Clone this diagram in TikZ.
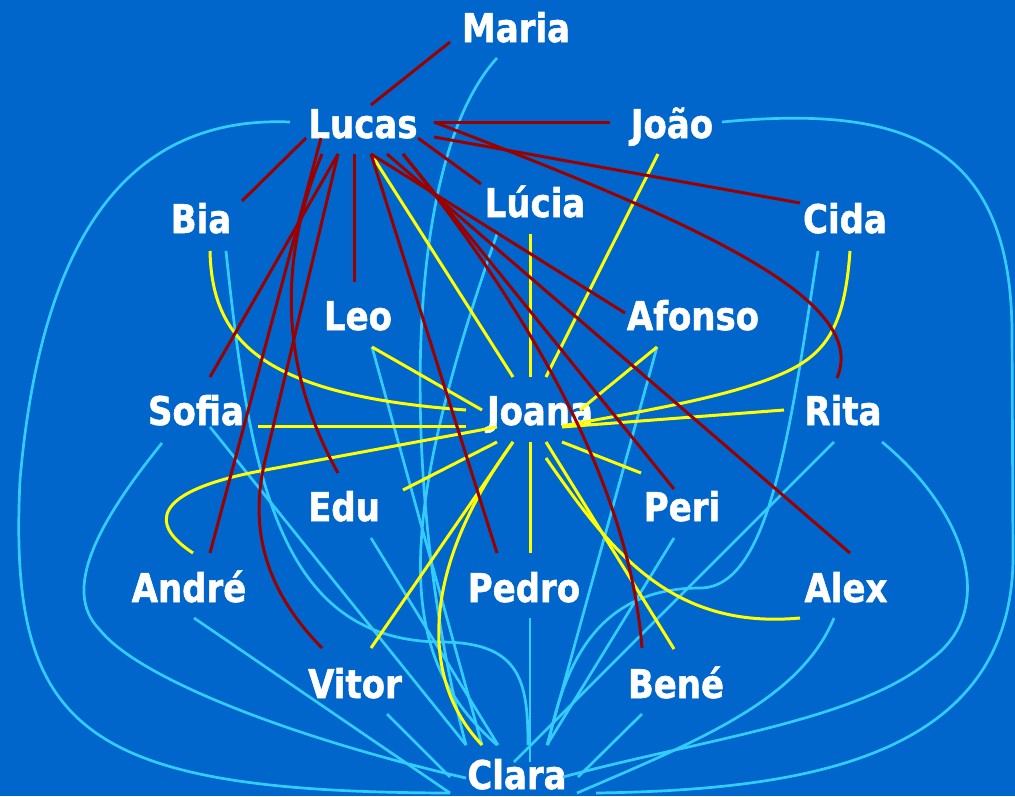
\documentclass[tikz,border=0pt]{standalone}
\usepackage{fontspec}
\setmainfont{DejaVu Sans Bold}[FakeStretch=0.86,FakeBold=1.3]
\definecolor{bgblue}{RGB}{0,102,204}
\definecolor{tiered}{RGB}{153,0,0}
\definecolor{tieyellow}{RGB}{255,255,0}
\definecolor{tiecyan}{RGB}{51,204,255}
\begin{document}
\begin{tikzpicture}[x=1pt,y=-1pt,
  person/.style={text=white,font=\fontsize{39.5}{40}\selectfont,inner sep=0pt,anchor=base},
  redtie/.style={draw=tiered,line width=3pt},
  yeltie/.style={draw=tieyellow,line width=3pt},
  cyantie/.style={draw=tiecyan,line width=2.7pt}]
\fill[bgblue] (0,0) rectangle (1015,796);
\useasboundingbox (0,0) rectangle (1015,796);
% people
\node[person] (Maria)  at (516,42)  {Maria};
\node[person] (Lucas)  at (363,138) {Lucas};
\node[person] (Joao)   at (672,138) {João};
\node[person] (Lucia)  at (535,217) {Lúcia};
\node[person] (Bia)    at (201,233) {Bia};
\node[person] (Cida)   at (845,233) {Cida};
\node[person] (Leo)    at (358,330) {Leo};
\node[person] (Afonso) at (693,330) {Afonso};
\node[person] (Sofia)  at (196,425) {Sofia};
\node[person] (Joana)  at (540,425) {Joana};
\node[person] (Rita)   at (843,425) {Rita};
\node[person] (Edu)    at (344,521) {Edu};
\node[person] (Peri)   at (682,521) {Peri};
\node[person] (Andre)  at (189,602) {André};
\node[person] (Pedro)  at (524,602) {Pedro};
\node[person] (Alex)   at (846,602) {Alex};
\node[person] (Vitor)  at (355,698) {Vitor};
\node[person] (Bene)   at (676,698) {Bené};
\node[person] (Clara)  at (517,789) {Clara};
% ---------- cyan (Clara) ----------
\draw[cyantie] ([shift={(-19,16)}]Maria.base) .. controls (395,170) and (405,520) .. ([shift={(-51,-44)}]Clara.base);
\draw[cyantie] ([shift={(-73,-16)}]Lucas.base) .. controls (120,115) and (40,250) .. (20,480)
   .. controls (8,730) and (80,792) .. ([shift={(-67,4)}]Clara.base);
\draw[cyantie] ([shift={(-34,18)}]Sofia.base) .. controls (100,520) and (60,590) .. (100,630)
   .. controls (140,680) and (300,740) .. ([shift={(-51,-11)}]Clara.base);
\draw[cyantie] ([shift={(14,2)}]Sofia.base) -- ([shift={(-51,-44)}]Clara.base);
\draw[cyantie] ([shift={(5,16)}]Andre.base) -- ([shift={(-67,4)}]Clara.base);
\draw[cyantie] ([shift={(32,16)}]Vitor.base) -- ([shift={(-67,-12)}]Clara.base);
\draw[cyantie] ([shift={(25,18)}]Bia.base) .. controls (250,480) and (280,640) .. (440,642)
   .. controls (520,642) and (528,680) .. ([shift={(11,-44)}]Clara.base);
\draw[cyantie] ([shift={(-38,17)}]Lucia.base) .. controls (390,540) and (400,660) .. ([shift={(-20,-44)}]Clara.base);
\draw[cyantie] ([shift={(14,17)}]Leo.base) -- ([shift={(-35,-44)}]Clara.base);
\draw[cyantie] ([shift={(27,17)}]Edu.base) -- ([shift={(-19,-44)}]Clara.base);
\draw[cyantie] ([shift={(6,16)}]Pedro.base) -- ([shift={(13,-27)}]Clara.base);
\draw[cyantie] ([shift={(-9,17)}]Rita.base) -- ([shift={(-3,-27)}]Clara.base);
\draw[cyantie] ([shift={(-27,18)}]Cida.base) .. controls (790,430) and (770,588) .. (700,588)
   .. controls (600,588) and (565,660) .. ([shift={(31,-44)}]Clara.base);
\draw[cyantie] ([shift={(-36,17)}]Afonso.base) -- ([shift={(30,-44)}]Clara.base);
\draw[cyantie] ([shift={(-8,17)}]Peri.base) -- ([shift={(30,-44)}]Clara.base);
\draw[cyantie] ([shift={(-34,16)}]Bene.base) -- ([shift={(61,-12)}]Clara.base);
\draw[cyantie] ([shift={(39,17)}]Rita.base) .. controls (965,510) and (1000,610) .. (930,660)
   .. controls (860,720) and (700,740) .. ([shift={(46,-12)}]Clara.base);
\draw[cyantie] ([shift={(-12,16)}]Alex.base) .. controls (800,700) and (700,740) .. ([shift={(60,4)}]Clara.base);
\draw[cyantie] ([shift={(50,-16)}]Joao.base) .. controls (900,105) and (1010,140) .. (1012,330)
   -- (1013,560) .. controls (1010,760) and (800,790) .. ([shift={(79,4)}]Clara.base);
% ---------- yellow (Joana) ----------
\draw[yeltie] ([shift={(10,19)}]Lucas.base) -- ([shift={(-27,-48)}]Joana.base);
\draw[yeltie] ([shift={(-5,17)}]Lucia.base) -- ([shift={(-10,-48)}]Joana.base);
\draw[yeltie] ([shift={(-14,16)}]Joao.base) -- ([shift={(6,-48)}]Joana.base);
\draw[yeltie] ([shift={(-36,17)}]Afonso.base) -- ([shift={(40,-15)}]Joana.base);
\draw[yeltie] ([shift={(5,18)}]Cida.base) .. controls (845,320) and (830,350) .. (790,370)
   .. controls (740,395) and (650,410) .. ([shift={(22,1)}]Joana.base);
\draw[yeltie] ([shift={(-59,-15)}]Rita.base) -- ([shift={(22,2)}]Joana.base);
\draw[yeltie] ([shift={(-41,-48)}]Peri.base) -- ([shift={(22,17)}]Joana.base);
\draw[yeltie] ([shift={(6,-49)}]Pedro.base) -- ([shift={(-10,17)}]Joana.base);
\draw[yeltie] ([shift={(-2,-49)}]Bene.base) -- ([shift={(6,17)}]Joana.base);
\draw[yeltie] ([shift={(6,33)}]Joana.base) .. controls (610,550) and (670,630) .. ([shift={(-46,16)}]Alex.base);
\draw[yeltie] ([shift={(16,-50)}]Vitor.base) -- ([shift={(-27,17)}]Joana.base);
\draw[yeltie] ([shift={(-27,17)}]Joana.base) .. controls (420,570) and (420,680) .. ([shift={(-35,-44)}]Clara.base);
\draw[yeltie] ([shift={(59,-31)}]Edu.base) -- ([shift={(-43,17)}]Joana.base);
\draw[yeltie] ([shift={(-43,2)}]Joana.base) -- (260,471) .. controls (150,492) and (150,525) .. ([shift={(4,-49)}]Andre.base);
\draw[yeltie] ([shift={(62,1)}]Sofia.base) -- ([shift={(-74,1)}]Joana.base);
\draw[yeltie] ([shift={(9,18)}]Bia.base) .. controls (212,340) and (260,395) .. ([shift={(-74,-15)}]Joana.base);
\draw[yeltie] ([shift={(14,17)}]Leo.base) -- ([shift={(-58,-15)}]Joana.base);
% ---------- red (Lucas) ----------
\draw[redtie] ([shift={(8,-33)}]Lucas.base) -- ([shift={(-66,0)}]Maria.base);
\draw[redtie] ([shift={(71,-16)}]Lucas.base) -- ([shift={(-62,-16)}]Joao.base);
\draw[redtie] ([shift={(71,-1)}]Lucas.base) -- ([shift={(-45,-30)}]Cida.base);
\draw[redtie] ([shift={(71,-16)}]Lucas.base) .. controls (700,224) and (870,300) .. ([shift={(-6,-47)}]Rita.base);
\draw[redtie] ([shift={(55,0)}]Lucas.base) -- ([shift={(-54,-33)}]Lucia.base);
\draw[redtie] ([shift={(-57,0)}]Lucas.base) -- ([shift={(41,-32)}]Bia.base);
\draw[redtie] ([shift={(-42,0)}]Lucas.base) -- ([shift={(21,-49)}]Andre.base);
\draw[redtie] ([shift={(-41,16)}]Lucas.base) .. controls (282,250) and (275,360) .. ([shift={(-6,-48)}]Edu.base);
\draw[redtie] ([shift={(-25,16)}]Lucas.base) -- ([shift={(14,-48)}]Sofia.base);
\draw[redtie] ([shift={(-25,16)}]Lucas.base) -- (264,465) .. controls (250,530) and (265,590) .. ([shift={(-33,-50)}]Vitor.base);
\draw[redtie] ([shift={(-9,16)}]Lucas.base) -- ([shift={(-4,-48)}]Leo.base);
\draw[redtie] ([shift={(8,16)}]Lucas.base) -- ([shift={(-27,-49)}]Pedro.base);
\draw[redtie] ([shift={(8,16)}]Lucas.base) -- ([shift={(-68,-17)}]Afonso.base);
\draw[redtie] ([shift={(24,16)}]Lucas.base) -- ([shift={(4,-49)}]Alex.base);
\draw[redtie] ([shift={(40,16)}]Lucas.base) -- ([shift={(-8,-32)}]Peri.base);
\draw[redtie] ([shift={(40,16)}]Lucas.base) .. controls (600,400) and (635,560) .. ([shift={(-34,-50)}]Bene.base);
\end{tikzpicture}
\end{document}
